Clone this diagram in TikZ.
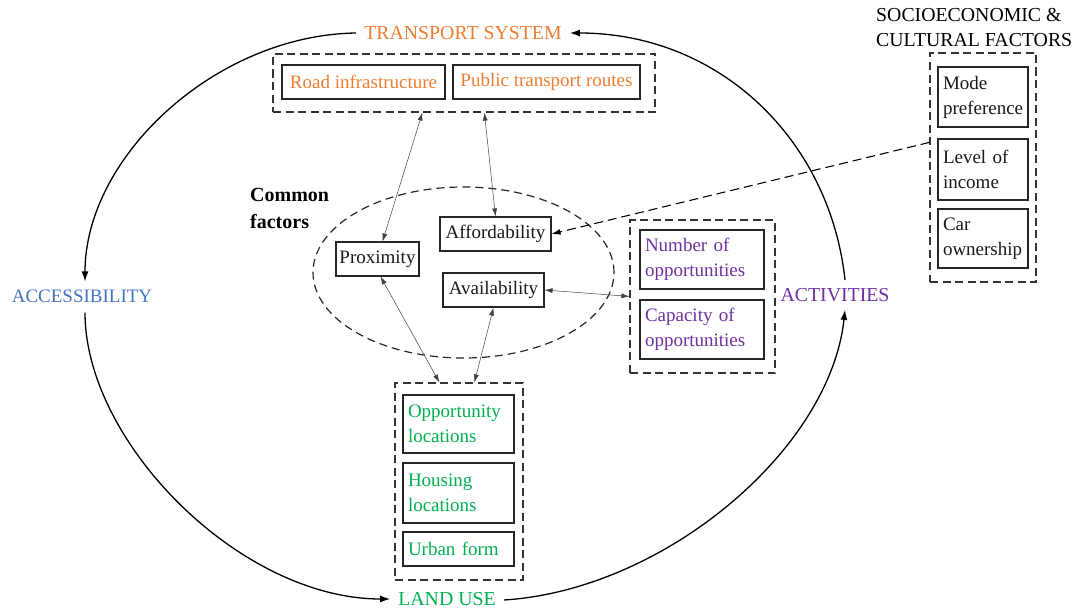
\documentclass[tikz,border=0pt]{standalone}
\usepackage{fontspec}
\setmainfont{Liberation Serif}
\usetikzlibrary{arrows.meta,calc,shapes.geometric}
\definecolor{torange}{HTML}{ED7D31}
\definecolor{tblue}{HTML}{4472C4}
\definecolor{tgreen}{HTML}{00B050}
\definecolor{tpurple}{HTML}{7030A0}
\newcommand\bxf{\fontsize{19}{25}\selectfont}
\newcommand\lbf{\fontsize{19.8}{25}\selectfont}
\begin{document}
\begin{tikzpicture}[x=1pt,y=-1pt,
  box/.style={draw=black!85, line width=1.1pt, inner sep=0pt, font=\bxf, text=black!90},
  grp/.style={draw=black!80, line width=1.2pt, dash pattern=on 8pt off 4.5pt, inner sep=0pt},
  lbl/.style={font=\lbf, inner sep=0pt},
  cyc/.style={line width=1.3pt, -{Latex[length=10pt,width=7pt]}},
  thinarr/.style={line width=0.5pt, draw=black!75, {Latex[length=8pt,width=5pt]}-{Latex[length=8pt,width=5pt]}},
  dasharr/.style={line width=1.1pt, dash pattern=on 9pt off 5pt, -{Latex[length=9pt,width=6pt]}}
]
\useasboundingbox (0,0) rectangle (1081,610);

% main labels
\node[lbl, text=torange] (ts) at (463,33) {TRANSPORT SYSTEM};
\node[lbl, text=tblue, font=\fontsize{19}{25}\selectfont] (acc) at (82,296) {ACCESSIBILITY};
\node[lbl, text=tgreen] (lu) at (447,599) {LAND USE};
\node[lbl, text=tpurple] (act) at (835,295) {ACTIVITIES};
\node[lbl, align=left, anchor=west] (soc) at (876,28) {SOCIOECONOMIC \&\\CULTURAL FACTORS};
\node[font=\fontsize{20}{27}\selectfont\bfseries, align=left, anchor=west, inner sep=0pt] (cf) at (250,208) {Common\\factors};

% transport system
\node[grp, minimum width=382pt, minimum height=58pt] (tg) at (464,83) {};
\node[box, text=torange, minimum width=163pt, minimum height=34pt] (road) at (363.5,82) {Road infrastructure};
\node[box, text=torange, minimum width=187pt, minimum height=34pt] (pub) at (546.5,82) {Public transport routes};

% socioeconomic
\node[grp, minimum width=106pt, minimum height=229pt] (sg) at (983,167.5) {};
\node[box, align=left, text width=80pt, minimum width=90pt, minimum height=60pt] (mode) at (983,97) {Mode\\preference};
\node[box, align=left, text width=80pt, minimum width=90pt, minimum height=61pt] (level) at (983,169.5) {Level of\\income};
\node[box, align=left, text width=80pt, minimum width=90pt, minimum height=59pt] (car) at (983,238.5) {Car\\ownership};

% common factors
\node[ellipse, draw=black!85, line width=1.2pt, dash pattern=on 8pt off 5pt, minimum width=301pt, minimum height=171pt] (ell) at (463.5,272.5) {};
\node[box, minimum width=83pt, minimum height=34pt] (prox) at (377.5,259) {Proximity};
\node[box, minimum width=111pt, minimum height=34pt] (afford) at (495.5,234) {Affordability};
\node[box, minimum width=101pt, minimum height=34pt] (avail) at (493.5,290) {Availability};

% activities
\node[grp, minimum width=145pt, minimum height=153pt] (ag) at (702.5,296.5) {};
\node[box, text=tpurple, align=left, text width=114pt, minimum width=124pt, minimum height=59pt] (num) at (702,259.5) {Number of\\opportunities};
\node[box, text=tpurple, align=left, text width=114pt, minimum width=124pt, minimum height=59pt] (capa) at (702,329.5) {Capacity of\\opportunities};

% land use
\node[grp, minimum width=128pt, minimum height=197pt] (lg) at (459,481.5) {};
\node[box, text=tgreen, align=left, text width=101pt, minimum width=111pt, minimum height=58pt] (opp) at (458.5,424) {Opportunity\\locations};
\node[box, text=tgreen, align=left, text width=101pt, minimum width=111pt, minimum height=60pt] (hous) at (458.5,493) {Housing\\locations};
\node[box, text=tgreen, align=left, text width=101pt, minimum width=111pt, minimum height=34pt] (urb) at (458.5,549) {Urban form};

% cycle
\draw[cyc] (ts.west) ++(-8,0) .. controls +(-140,2) and +(0,-125) .. ($(acc.north)+(3,-8)$);
\draw[cyc] ($(acc.south)+(3,10)$) .. controls +(0,130) and +(-150,0) .. ($(lu.west)+(-8,0)$);
\draw[cyc] ($(lu.east)+(8,1)$) .. controls +(160,-10) and +(-15,140) .. ($(act.south)+(10,8)$);
\draw[cyc] ($(act.north)+(10,-8)$) .. controls +(-15,-140) and +(150,0) .. ($(ts.east)+(8,0)$);

% connectors
\draw[thinarr] ($(tg.south west)+(150,0)$) -- ($(prox.north)+(5,0)$);
\draw[thinarr] ($(tg.south west)+(212,0)$) -- (afford.north);
\draw[thinarr] ($(prox.south)+(3,0)$) -- ($(lg.north west)+(45,0)$);
\draw[thinarr] (avail.south) -- ($(lg.north west)+(80,0)$);
\draw[thinarr] (avail.east) -- ($(ag.north west)+(0,77)$);
\draw[dasharr] ($(sg.north west)+(0,90)$) -- (afford.east);
\end{tikzpicture}
\end{document}
